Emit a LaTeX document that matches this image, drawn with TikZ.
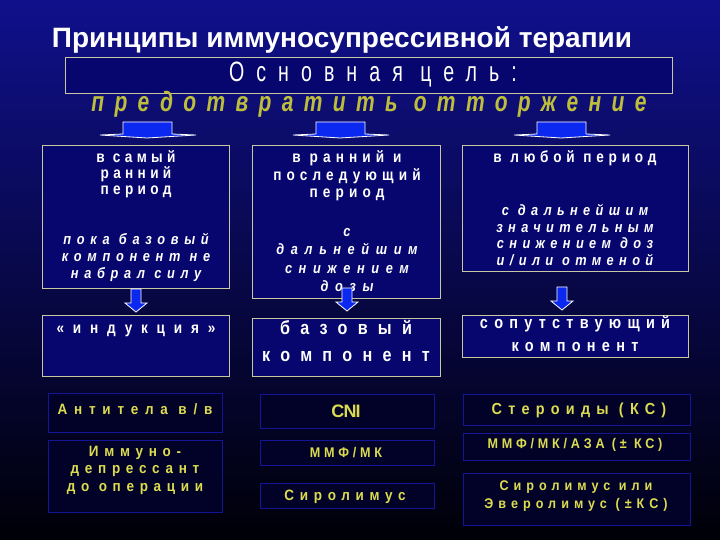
\documentclass[tikz,border=0pt]{standalone}
\usepackage{fontspec}
\setmainfont{Liberation Sans}
\usetikzlibrary{positioning}
\definecolor{bgtop}{RGB}{16,16,140}
\definecolor{bgmid}{RGB}{0,0,160}
\definecolor{bgbot}{RGB}{0,0,8}
\definecolor{boxline}{RGB}{200,200,160}
\definecolor{boxfill}{RGB}{6,6,110}
\definecolor{dline}{RGB}{20,20,150}
\definecolor{dfill}{RGB}{2,2,40}
\definecolor{goalyel}{RGB}{190,190,60}
\definecolor{txtyel}{RGB}{220,220,80}
\definecolor{arrblue}{RGB}{10,40,240}
\newcommand\lsp[2]{\addfontfeature{LetterSpace=#1,FakeStretch=#2}}
\newcommand\fs[2]{\fontsize{#1}{#2}\selectfont}

\begin{document}
\begin{tikzpicture}[x=1pt,y=-1pt,
  box/.style={draw=boxline,fill=boxfill,line width=.8pt,inner sep=0pt},
  dbox/.style={draw=dline,fill=dfill,line width=1pt,inner sep=0pt},
  wtxt/.style={text=white,inner sep=0pt,align=center,font=\fs{16}{16}\bfseries\lsp{27}{.85}},
  itxt/.style={text=white,inner sep=0pt,align=center,font=\fs{15}{17}\bfseries\itshape\lsp{38}{.85}},
  ytxt/.style={text=txtyel,inner sep=0pt,align=center,font=\fs{15}{17}\bfseries\lsp{38}{.9}},
  bigarr/.style={fill=arrblue,draw=white,line width=.8pt},
  smlarr/.style={fill=arrblue,draw=white,line width=.8pt}]
% background
\shade[top color=bgtop,middle color=bgmid,bottom color=bgbot] (0,0) rectangle (720,540);
\useasboundingbox (0,0) rectangle (720,540);

% title and goal
\node[text=white,font=\fs{28}{32}\bfseries] (title) at (342,40) {Принципы иммуносупрессивной терапии};
\node[box,minimum width=607pt,minimum height=36pt] (goal) at (368.5,75) {};
\node[text=white,font=\fs{28}{30}\lsp{43}{.7}] (goaltxt) at (373,75) {Основная цель:};
\node[text=goalyel,font=\fs{28}{30}\bfseries\itshape\lsp{37}{.75}] (prevent) at (369,104) {предотвратить отторжение};

% big arrows
\foreach \cx in {147,340,561}
  \filldraw[bigarr] (\cx-47,135) -- (\cx-24,134) -- (\cx-24,122) -- (\cx+25,122)
    -- (\cx+25,134) -- (\cx+49,135) -- (\cx,138) -- cycle;

% upper boxes
\node[box,minimum width=187pt,minimum height=143pt] (early) at (135.5,216.5) {};
\node[box,minimum width=188pt,minimum height=153pt] (later) at (346,221.5) {};
\node[box,minimum width=226pt,minimum height=126pt] (any) at (575,208) {};
\node[wtxt] (earlytxt) at (136,174) {в самый\\ранний\\период};
\node[itxt] (earlyit) at (136,257) {пока базовый\\компонент не\\набрал силу};
\node[wtxt,font=\fs{16}{17.5}\bfseries\lsp{32}{.85}] (latertxt) at (347,176) {в ранний и\\последующий\\период};
\node[itxt,font=\fs{15}{18.5}\bfseries\itshape\lsp{44}{.85}] (laterit) at (347,260) {с\\дальнейшим\\снижением\\дозы};
\node[wtxt,font=\fs{16}{16}\bfseries\lsp{30}{.85}] (anytxt) at (575,158) {в любой период};
\node[itxt,font=\fs{15}{16.7}\bfseries\itshape\lsp{36}{.85}] (anyit) at (575,235) {с дальнейшим\\значительным\\снижением доз\\и/или отменой};

% small arrows
\foreach \cx/\yt in {136/289,347/288,562/287}
  \filldraw[smlarr] (\cx-5,\yt) -- (\cx+5,\yt) -- (\cx+5,\yt+14) -- (\cx+11,\yt+14)
    -- (\cx,\yt+23) -- (\cx-11,\yt+14) -- (\cx-5,\yt+14) -- cycle;

% middle boxes
\node[box,minimum width=187pt,minimum height=61pt] (induct) at (135.5,346) {};
\node[box,minimum width=188pt,minimum height=58pt] (base) at (346,347) {};
\node[box,minimum width=226pt,minimum height=42pt] (extra) at (575,336) {};
\node[wtxt,font=\fs{16}{18}\bfseries\lsp{55}{.85}] (inducttxt) at (136,331) {«индукция»};
\node[wtxt,font=\fs{19}{27}\bfseries\lsp{54}{.85}] (basetxt) at (346,341) {базовый\\компонент};
\node[wtxt,font=\fs{17}{23}\bfseries\lsp{37}{.85}] (extratxt) at (575,334) {сопутствующий\\компонент};

% drugs
\node[dbox,minimum width=174pt,minimum height=39pt] (ab) at (135,412.5) {};
\node[dbox,minimum width=174pt,minimum height=72pt] (preop) at (135,476) {};
\node[dbox,minimum width=174pt,minimum height=34pt] (cni) at (347,411) {};
\node[dbox,minimum width=174pt,minimum height=25pt] (mmf) at (347,452.5) {};
\node[dbox,minimum width=174pt,minimum height=25pt] (siro) at (347,495.5) {};
\node[dbox,minimum width=227pt,minimum height=31pt] (ster) at (576.5,409.5) {};
\node[dbox,minimum width=227pt,minimum height=27pt] (mmfaza) at (576.5,446.5) {};
\node[dbox,minimum width=227pt,minimum height=52pt] (siroev) at (576.5,499) {};
\node[ytxt,font=\fs{15}{17}\bfseries\lsp{45}{.9}] (abtxt) at (135,409) {Антитела в/в};
\node[ytxt,font=\fs{15}{17.5}\bfseries\lsp{38}{.9}] (preoptxt) at (135,470) {Иммуно-\\депрессант\\до операции};
\node[ytxt,font=\fs{18}{20}\bfseries\lsp{-5}{1}] (cnitxt) at (346,411) {CNI};
\node[ytxt,font=\fs{14}{16}\bfseries\lsp{27}{.9}] (mmftxt) at (346,453) {ММФ/МК};
\node[ytxt] (sirotxt) at (345,497) {Сиролимус};
\node[ytxt,font=\fs{16}{18}\bfseries\lsp{39}{.9}] (stertxt) at (579,410) {Стероиды (КС)};
\node[ytxt,font=\fs{14}{16}\bfseries\lsp{27}{.9}] (mmfazatxt) at (575,445) {ММФ/МК/АЗА (± КС)};
\node[ytxt,font=\fs{14}{18}\bfseries\lsp{36}{.9}] (siroevtxt) at (576,496) {Сиролимус или\\Эверолимус (±КС)};
\end{tikzpicture}
\end{document}
